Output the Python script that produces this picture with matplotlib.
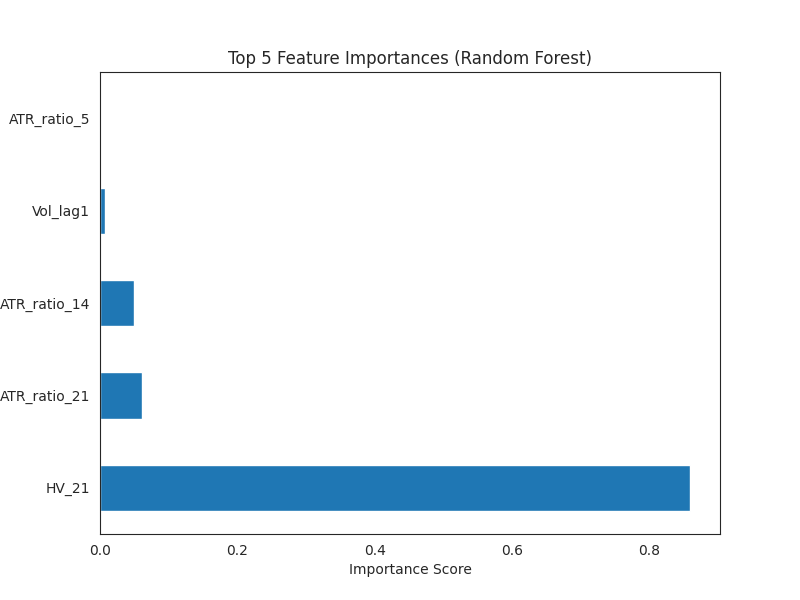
import matplotlib
matplotlib.use("Agg")
import matplotlib.pyplot as plt
import seaborn as sns
import pandas as pd

# Feature importances
features = ['HV_21', 'ATR_ratio_21', 'ATR_ratio_14', 'Vol_lag1', 'ATR_ratio_5']
importances = [0.860, 0.061, 0.049, 0.008, 0.0002]

sns.set_style('white')

imp = pd.Series(importances, index=features)

fig, ax = plt.subplots(figsize=(8, 6), dpi=100)
imp.plot(kind='barh', ax=ax, color='#1f77b4')
ax.set_title('Top 5 Feature Importances (Random Forest)')
ax.set_xlabel('Importance Score')

plt.savefig('out.png')
